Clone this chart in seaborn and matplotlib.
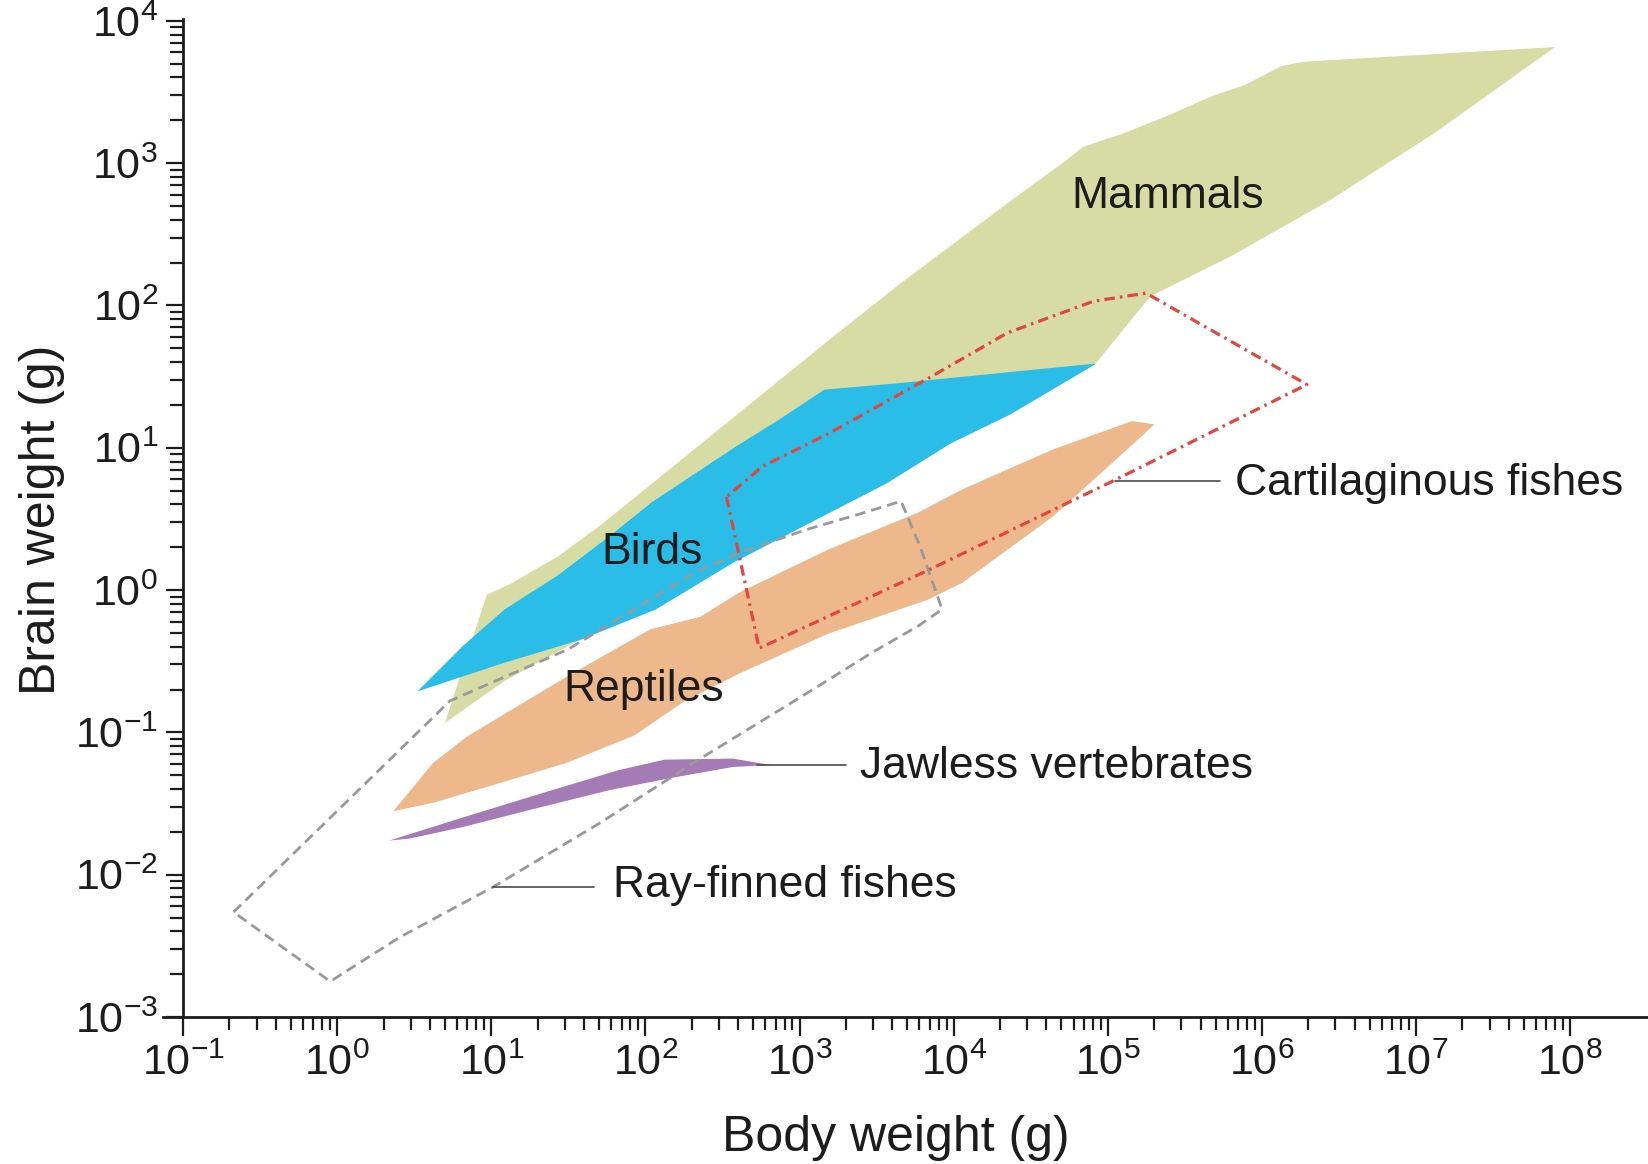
import matplotlib
matplotlib.use("Agg")
import matplotlib.pyplot as plt
from matplotlib.ticker import FixedLocator, LogFormatterSciNotation, NullFormatter
import pandas as pd
import seaborn as sns

# Outlines of each vertebrate group: body weight (g) vs brain weight (g)
mammals_body = [5.0, 9.36, 13.2, 26.8, 51.1, 375, 1670, 4490, 2.41e4, 5.12e4, 6.9e4,
                1.27e5, 2.39e5, 4.69e5, 7.76e5, 1.34e6, 1.84e6, 7.98e7, 1.31e7, 2.81e6,
                6.32e5, 1.89e5, 8.47e4, 8960, 1860, 387, 80.5, 31.4, 12.2]
mammals_brain = [0.1165, 0.928, 1.10, 1.71, 2.85, 16.4, 60.9, 142, 555, 1006, 1300,
                 1620, 2130, 2940, 3540, 4810, 5150, 6540, 1620, 555,
                 222, 116, 39.8, 11.1, 4.36, 1.71, 0.672, 0.403, 0.230]

birds_body = [3.32, 6.52, 12.2, 26.8, 58.8, 110, 387, 726, 1450, 4220, 8.47e4,
              2.3e4, 9540, 3660, 1160, 369, 117, 37.9, 12.0]
birds_brain = [0.194, 0.403, 0.731, 1.26, 2.40, 4.14, 10.2, 15.6, 25.6, 28.3, 39.1,
               17.0, 10.7, 5.6, 2.95, 1.55, 0.731, 0.447, 0.307]

reptiles_body = [2.31, 4.20, 6.95, 18.7, 30.9, 107, 227, 406, 1540, 5860, 1.13e4, 4.38e4,
                 1.44e5, 2.01e5, 1.18e5, 4.38e4, 1.13e4, 6750, 1540, 406, 177, 84.4,
                 30.9, 11.5, 4.20]
reptiles_brain = [0.0279, 0.0611, 0.0934, 0.178, 0.246, 0.529, 0.649, 0.960, 1.93, 3.50,
                  5.08, 9.70, 15.4, 14.6, 8.61, 3.27, 1.12, 0.852, 0.494, 0.259, 0.164,
                  0.0950, 0.0611, 0.0442, 0.0320]

jawless_body = [2.17, 6.52, 21.2, 66.7, 133, 369, 650, 369, 151, 58.8, 18.7, 6.52, 2.97]
jawless_brain = [0.01735, 0.0252, 0.0373, 0.0542, 0.0643, 0.0654, 0.0590, 0.0571,
                 0.0481, 0.0393, 0.0289, 0.0216, 0.01795]

cartilaginous_body = [336, 547, 6750, 1.11e5, 1.96e6, 1.77e5, 8.08e4, 2.23e4, 7080, 1570, 574]
cartilaginous_brain = [4.51, 0.390, 1.37, 5.92, 27.8, 122, 107, 64.1, 31.4, 12.7, 7.39]

rayfinned_body = [0.2126, 5.40, 31.4, 210, 406, 1110, 2630, 4560, 6050, 8410, 5860,
                  3030, 1110, 227, 51.1, 10.3, 2.54, 0.902]
rayfinned_brain = [0.00546, 0.1666, 0.383, 1.33, 1.83, 2.66, 3.50, 4.21, 2.03, 0.731,
                   0.557, 0.370, 0.1876, 0.0654, 0.0232, 0.00821, 0.00363, 0.001777]

# Group names, label anchors and leader lines (body, brain)
group_labels = ["Mammals", "Birds", "Reptiles"]
group_label_x = [2.46e5, 110, 97.2]
group_label_y = [584, 1.83, 0.201]

callout_labels = ["Cartilaginous fishes", "Jawless vertebrates", "Ray-finned fishes"]
callout_text_x = [6.73e5, 2470, 61.7]
callout_text_y = [5.62, 0.0571, 0.00836]
leader_x0 = [1.11e5, 530, 10.3]
leader_x1 = [5.32e5, 2014, 46.5]
leader_y = [5.82, 0.0590, 0.00821]

x_major = [10.0 ** k for k in range(-1, 9)]
x_minor = [m * 10.0 ** k for k in range(-1, 8) for m in range(2, 10)]
y_major = [10.0 ** k for k in range(-3, 5)]
y_minor = [m * 10.0 ** k for k in range(-3, 4) for m in range(2, 10)]

sns.set_theme(style="ticks")
plt.rcParams["font.family"] = ["Liberation Sans", "DejaVu Sans"]
plt.rcParams["mathtext.fontset"] = "custom"
plt.rcParams["mathtext.rm"] = "Liberation Sans"
plt.rcParams["mathtext.it"] = "Liberation Sans:italic"
plt.rcParams["mathtext.bf"] = "Liberation Sans:bold"

INK = "#1c1c1c"

fig = plt.figure(figsize=(16.48, 11.64), dpi=100)
ax = fig.add_axes([0.0989, 0.1263, 0.9011, 0.8574])
ax.set_xscale("log")
ax.set_yscale("log")
ax.set_xlim(0.0741, 3.2e8)
ax.set_ylim(1e-3, 1.03e4)

# Filled ranges
ax.fill(mammals_body, mammals_brain, color="#D7DCA5", lw=0, zorder=1)
ax.fill(birds_body, birds_brain, color="#29BDE7", lw=0, zorder=2)
ax.fill(reptiles_body, reptiles_brain, color="#EDB98C", lw=0, zorder=2)
ax.fill(jawless_body, jawless_brain, color="#A57BB5", lw=0, zorder=2)


def outline(xs, ys, color, style, width):
    df = pd.DataFrame({"body": list(xs) + [xs[0]], "brain": list(ys) + [ys[0]]})
    sns.lineplot(data=df, x="body", y="brain", sort=False, estimator=None, ax=ax,
                 color=color, linestyle=style, linewidth=width, zorder=4)


outline(rayfinned_body, rayfinned_brain, "#999999", (0, (3.8, 2.2)), 2.0)
outline(cartilaginous_body, cartilaginous_brain, "#E4463E", (0, (3.3, 1.6, 0.8, 1.6)), 2.3)

# Leader lines and callout text
for x0, x1, y in zip(leader_x0, leader_x1, leader_y):
    ax.plot([x0, x1], [y, y], color="#4a4a4a", lw=1.2, zorder=5)
for txt, x, y in zip(callout_labels, callout_text_x, callout_text_y):
    ax.text(x, y, txt, fontsize=32, color=INK, ha="left", va="center", zorder=6)
for txt, x, y in zip(group_labels, group_label_x, group_label_y):
    ax.text(x, y, txt, fontsize=32, color=INK, ha="center", va="center", zorder=6)

# Axes styling
for side in ("top", "right"):
    ax.spines[side].set_visible(False)
ax.spines["left"].set_position(("data", 0.1))
for side in ("left", "bottom"):
    ax.spines[side].set_linewidth(2.0)
    ax.spines[side].set_color(INK)

ax.xaxis.set_major_locator(FixedLocator(x_major))
ax.xaxis.set_minor_locator(FixedLocator(x_minor))
ax.yaxis.set_major_locator(FixedLocator(y_major))
ax.yaxis.set_minor_locator(FixedLocator(y_minor))
ax.xaxis.set_major_formatter(LogFormatterSciNotation())
ax.yaxis.set_major_formatter(LogFormatterSciNotation())
ax.xaxis.set_minor_formatter(NullFormatter())
ax.yaxis.set_minor_formatter(NullFormatter())

ax.tick_params(which="both", direction="out", width=1.6, color=INK,
               labelcolor=INK, labelsize=31)
ax.tick_params(axis="x", which="major", length=14, pad=5)
ax.tick_params(axis="x", which="minor", length=9.5)
ax.tick_params(axis="y", which="major", length=12, pad=6)
ax.tick_params(axis="y", which="minor", length=9.5)

ax.set_xlabel("Body weight (g)", fontsize=36, color=INK)
ax.set_ylabel("Brain weight (g)", fontsize=36, color=INK)
ax.xaxis.set_label_coords(0.4936, -0.098)
ax.yaxis.set_label_coords(-0.066, 0.498)

fig.savefig("out.png", dpi=100, facecolor="white")
